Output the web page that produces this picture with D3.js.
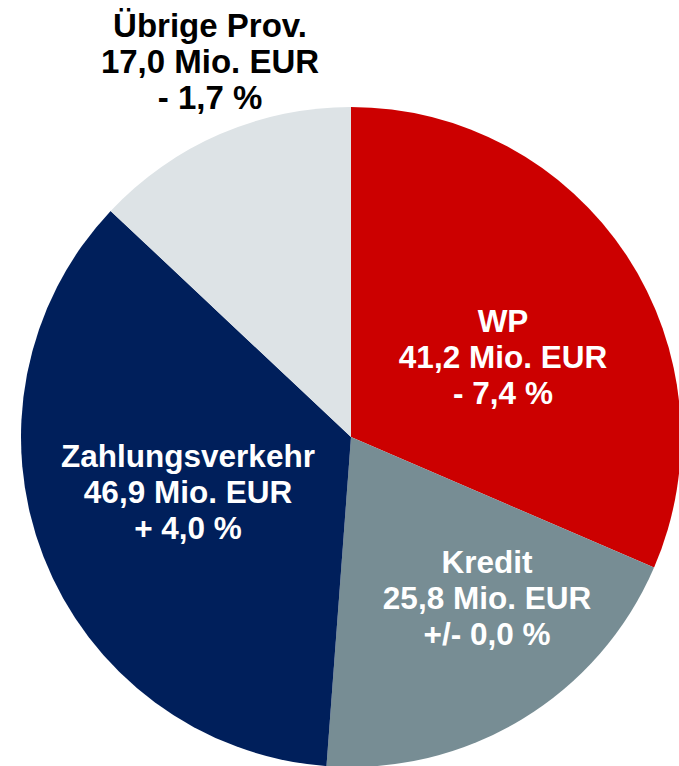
<!DOCTYPE html>
<html>
<head>
<meta charset="utf-8">
<script src="https://cdn.jsdelivr.net/npm/d3@7"></script>
<style>
  body { margin: 0; background: #fff; }
  text { font-family: "Liberation Sans", Arial, sans-serif; font-weight: bold; }
</style>
</head>
<body>
<div id="viz"></div>
<script>
var width = 679;
var height = 766;

// data
var categories = ["WP", "Kredit", "Zahlungsverkehr", "Übrige Prov."];
var values = [41.2, 25.8, 46.9, 17.0];
var changes = ["- 7,4 %", "+/- 0,0 %", "+ 4,0 %", "- 1,7 %"];

var colors = ["#cc0000", "#778d94", "#001f5b", "#dde3e6"];
var textColors = ["#fff", "#fff", "#fff", "#000"];
var fontSizes = [31.5, 31.5, 31.5, 33];
// label anchor (centre x, first baseline y)
var labelPos = [[503, 332], [487, 573], [188, 467], [210, 37]];

var cx = 351, cy = 437, radius = 330;

var canvas = d3.select('#viz')
	.append('svg')
	.attr("width", width)
	.attr("height", height);

var pie = d3.pie().sort(null).value(function(d){ return d; });
var arc = d3.arc().innerRadius(0).outerRadius(radius);

var arcs = pie(values);

canvas.append("g")
	.attr("transform", "translate(" + cx + "," + cy + ")")
	.selectAll("path")
	.data(arcs)
	.enter()
		.append("path")
		.attr("d", arc)
		.attr("fill", function(d, i){ return colors[i]; });

var fmt = function(v){ return d3.format(".1f")(v).replace(".", ",") + " Mio. EUR"; };

var labels = canvas.append("g")
	.selectAll("text")
	.data(arcs)
	.enter()
		.append("text")
		.attr("text-anchor", "middle")
		.attr("font-size", function(d, i){ return fontSizes[i]; })
		.attr("fill", function(d, i){ return textColors[i]; })
		.attr("x", function(d, i){ return labelPos[i][0]; })
		.attr("y", function(d, i){ return labelPos[i][1]; });

labels.each(function(d, i){
	var t = d3.select(this);
	var lines = [categories[i], fmt(values[i]), changes[i]];
	lines.forEach(function(l, j){
		t.append("tspan")
			.attr("x", labelPos[i][0])
			.attr("dy", j == 0 ? 0 : 36)
			.text(l);
	});
});
</script>
</body>
</html>
